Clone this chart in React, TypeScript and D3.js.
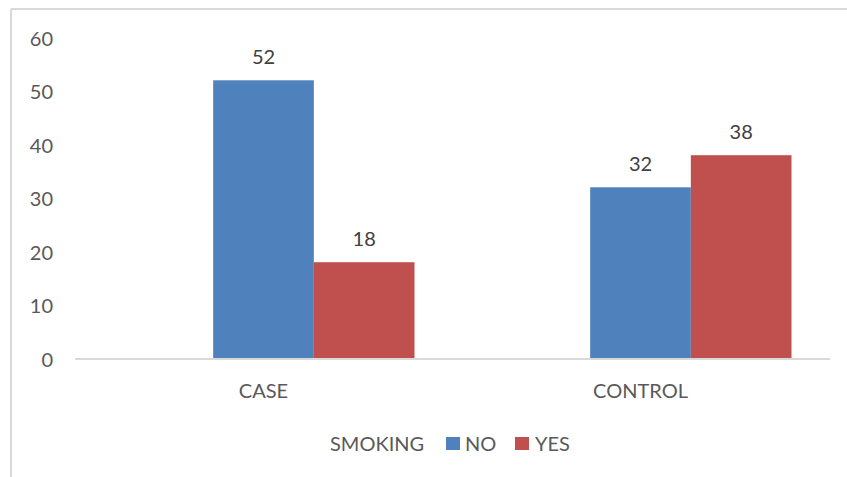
import React from "react";
import * as d3 from "d3";

const categories = ["CASE", "CONTROL"];
const seriesNames = ["SMOKING", "NO", "YES"];
const seriesColors = ["none", "#4F81BD", "#C0504D"];
const noValues = [52, 32];
const yesValues = [18, 38];
const yTicks = [0, 10, 20, 30, 40, 50, 60];

const W = 847;
const H = 477;
const FONT = "Lato, 'Open Sans', sans-serif";
const TEXT = "#595959";

export default function App() {
  const plotLeft = 75;
  const plotRight = 829;
  const y = d3.scaleLinear().domain([0, 60]).range([358.5, 37.5]);
  const x0 = d3.scaleBand().domain(categories).range([plotLeft, plotRight]).paddingInner(0).paddingOuter(0);
  const groupW = x0.bandwidth() * (302 / 377);
  const x1 = d3.scaleBand().domain(seriesNames).range([0, groupW]).padding(0);
  const series = [
    { name: "SMOKING", values: [null, null] as (number | null)[] },
    { name: "NO", values: noValues },
    { name: "YES", values: yesValues },
  ];

  return (
    <svg width={W} height={H} style={{ position: "absolute", left: 0, top: 0 }}>
      <rect x={0} y={0} width={W} height={H} fill="#fff" />
      <line x1={11} y1={9} x2={W} y2={9} stroke="#D9D9D9" strokeWidth={2} />
      <line x1={11} y1={9} x2={11} y2={H} stroke="#D9D9D9" strokeWidth={2} />
      {yTicks.map((t) => (
        <text key={t} x={53} y={y(t)} textAnchor="end" dominantBaseline="central" fontFamily={FONT} fontSize={20} fill={TEXT}>
          {t}
        </text>
      ))}
      {categories.map((c, ci) => {
        const gx = (x0(c) as number) + (x0.bandwidth() - groupW) / 2;
        return (
          <g key={c}>
            {series.map((s, si) => {
              const v = s.values[ci];
              if (v == null) return null;
              const bx = gx + (x1(s.name) as number);
              return (
                <g key={s.name}>
                  <rect x={bx} y={y(v)} width={x1.bandwidth()} height={y(0) - y(v)} fill={seriesColors[si]} />
                  <text x={bx + x1.bandwidth() / 2} y={y(v) - 24} textAnchor="middle" dominantBaseline="central" fontFamily={FONT} fontSize={20} fill="#404040">
                    {v}
                  </text>
                </g>
              );
            })}
            <text x={(x0(c) as number) + x0.bandwidth() / 2} y={390} textAnchor="middle" dominantBaseline="central" fontFamily={FONT} fontSize={20} fill={TEXT}>
              {c}
            </text>
          </g>
        );
      })}
      <line x1={plotLeft} y1={359} x2={plotRight + 1} y2={359} stroke="#D9D9D9" strokeWidth={2} />
      <g fontFamily={FONT} fontSize={20} fill={TEXT}>
        <text x={330} y={443} dominantBaseline="central">SMOKING</text>
        <rect x={446} y={437} width={14} height={13} fill={seriesColors[1]} />
        <text x={465} y={443} dominantBaseline="central">NO</text>
        <rect x={515} y={437} width={14} height={13} fill={seriesColors[2]} />
        <text x={535} y={443} dominantBaseline="central">YES</text>
      </g>
    </svg>
  );
}
